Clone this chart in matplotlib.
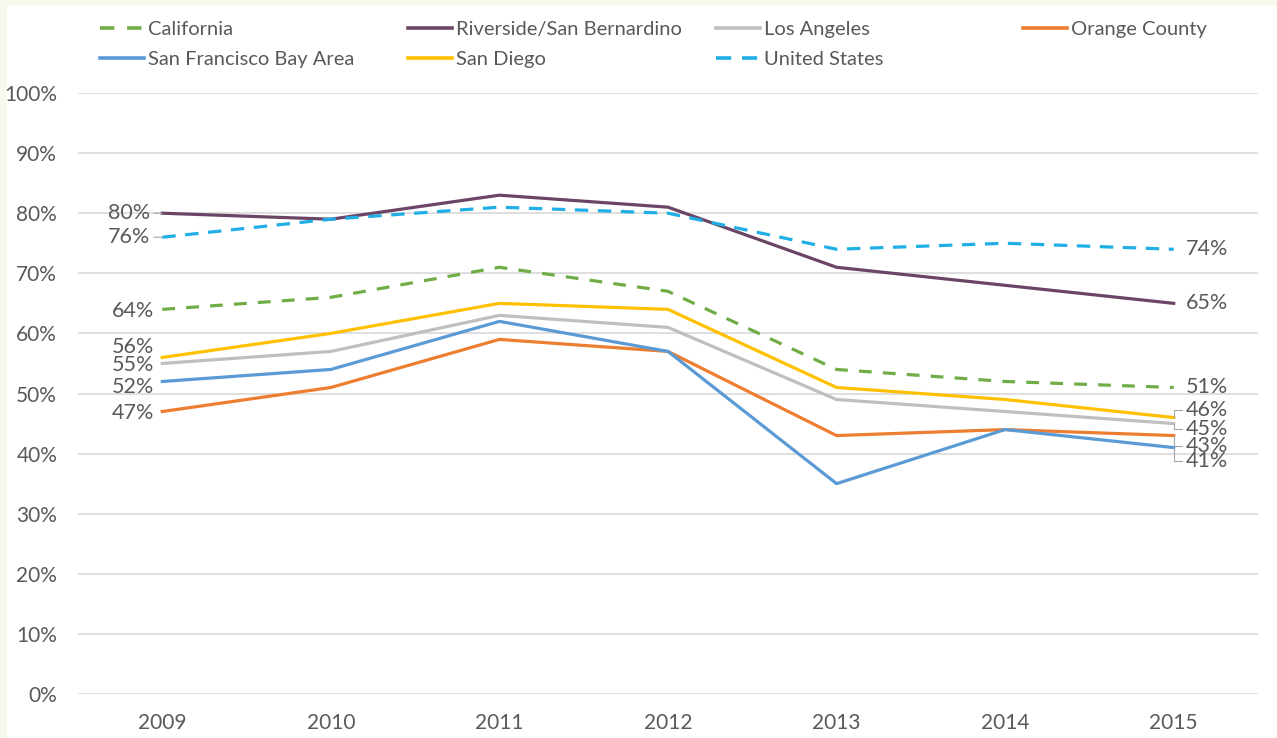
import matplotlib.pyplot as plt
from matplotlib.lines import Line2D
from matplotlib.patches import Rectangle
from matplotlib.ticker import PercentFormatter

plt.rcParams['font.family'] = ['Lato', 'DejaVu Sans']

years = ['2009', '2010', '2011', '2012', '2013', '2014', '2015']

california = [64, 66, 71, 67, 54, 52, 51]
riverside = [80, 79, 83, 81, 71, 68, 65]
los_angeles = [55, 57, 63, 61, 49, 47, 45]
orange_county = [47, 51, 59, 57, 43, 44, 43]
sf_bay = [52, 54, 62, 57, 35, 44, 41]
san_diego = [56, 60, 65, 64, 51, 49, 46]
united_states = [76, 79, 81, 80, 74, 75, 74]

names = ['California', 'Riverside/San Bernardino', 'Los Angeles', 'Orange County',
         'San Francisco Bay Area', 'San Diego', 'United States']
series = [california, riverside, los_angeles, orange_county, sf_bay, san_diego, united_states]

colors = ['#70AD47', '#6B4565', '#BFBFBF', '#ED7D31', '#5B9BD5', '#FFC000', '#1FAEE5']
styles = [(0, (4, 3.5)), '-', '-', '-', '-', '-', (0, (4.2, 3))]

# label offsets (points) for first / last value, and whether a leader line is drawn
left_off = [-1.5, 0, -1, -0.7, -4, 7.5, 0]
left_lead = [False, True, False, False, False, False, True]
right_off = [0, 0, -4, -7.5, -9.7, 5.4, 0]
right_lead = [False, False, True, True, True, True, False]

text_color = '#595959'
grid_color = '#D9D9D9'

W, H = 1277, 738
fig = plt.figure(figsize=(W / 100, H / 100), dpi=100, facecolor='#F8F8EC')
fig.patches.append(Rectangle((7 / W, 0), 1, 1 - 6 / H, transform=fig.transFigure,
                             facecolor='white', edgecolor='none', zorder=-5))

ax = fig.add_axes([78 / W, 1 - 694 / H, (1258 - 78) / W, (694 - 93) / H])
ax.set_facecolor('none')

x = list(range(len(years)))
for vals, c, ls in zip(series, colors, styles):
    ax.plot(x, [v / 100 for v in vals], color=c, linestyle=ls, lw=2.3, zorder=3)

for i, vals in enumerate(series):
    y0 = vals[0] / 100
    if left_lead[i]:
        ax.annotate(f'{vals[0]}%', xy=(0, y0), xytext=(-9, left_off[i]), textcoords='offset points',
                    ha='right', va='center', fontsize=15.5, color=text_color,
                    arrowprops=dict(arrowstyle='-', color='#A6A6A6', lw=0.8, shrinkA=1, shrinkB=0))
    else:
        ax.annotate(f'{vals[0]}%', xy=(0, y0), xytext=(-6, left_off[i]), textcoords='offset points',
                    ha='right', va='center', fontsize=15.5, color=text_color)
    y1 = vals[-1] / 100
    if right_lead[i]:
        ax.annotate(f'{vals[-1]}%', xy=(6, y1), xytext=(9, right_off[i]), textcoords='offset points',
                    ha='left', va='center', fontsize=15.5, color=text_color,
                    arrowprops=dict(arrowstyle='-', color='#A6A6A6', lw=0.8, shrinkA=1, shrinkB=0,
                                    connectionstyle='angle,angleA=0,angleB=90,rad=0'))
    else:
        ax.annotate(f'{vals[-1]}%', xy=(6, y1), xytext=(9, right_off[i]), textcoords='offset points',
                    ha='left', va='center', fontsize=15.5, color=text_color)

ax.set_xlim(-0.5, 6.5)
ax.set_ylim(0, 1)
ax.set_xticks(x)
ax.set_xticklabels(years)
ax.set_yticks([i / 10 for i in range(11)])
ax.yaxis.set_major_formatter(PercentFormatter(1.0, decimals=0))
ax.tick_params(length=0, labelsize=15, labelcolor=text_color)
ax.tick_params(axis='y', pad=15)
ax.tick_params(axis='x', pad=14)
ax.grid(axis='y', color=grid_color, lw=1.2)
ax.set_axisbelow(True)
for s in ax.spines.values():
    s.set_visible(False)

# legend: four equal-width columns like the original
handles = [Line2D([], [], color=c, linestyle=ls, lw=2.6) for c, ls in zip(colors, styles)]
col_x = [100, 408, 716, 1023]
cols = [[0, 4], [1, 5], [2, 6], [3]]
for cx, idx in zip(col_x, cols):
    fig.legend([handles[k] for k in idx], [names[k] for k in idx], loc='upper left',
               bbox_to_anchor=(cx / W, 1 - 21 / H), frameon=False, fontsize=14.5,
               handlelength=2.2, handletextpad=0.2, borderpad=0, borderaxespad=0,
               labelspacing=0.65, labelcolor=text_color)

fig.savefig('out.png', dpi=100, facecolor=fig.get_facecolor())
